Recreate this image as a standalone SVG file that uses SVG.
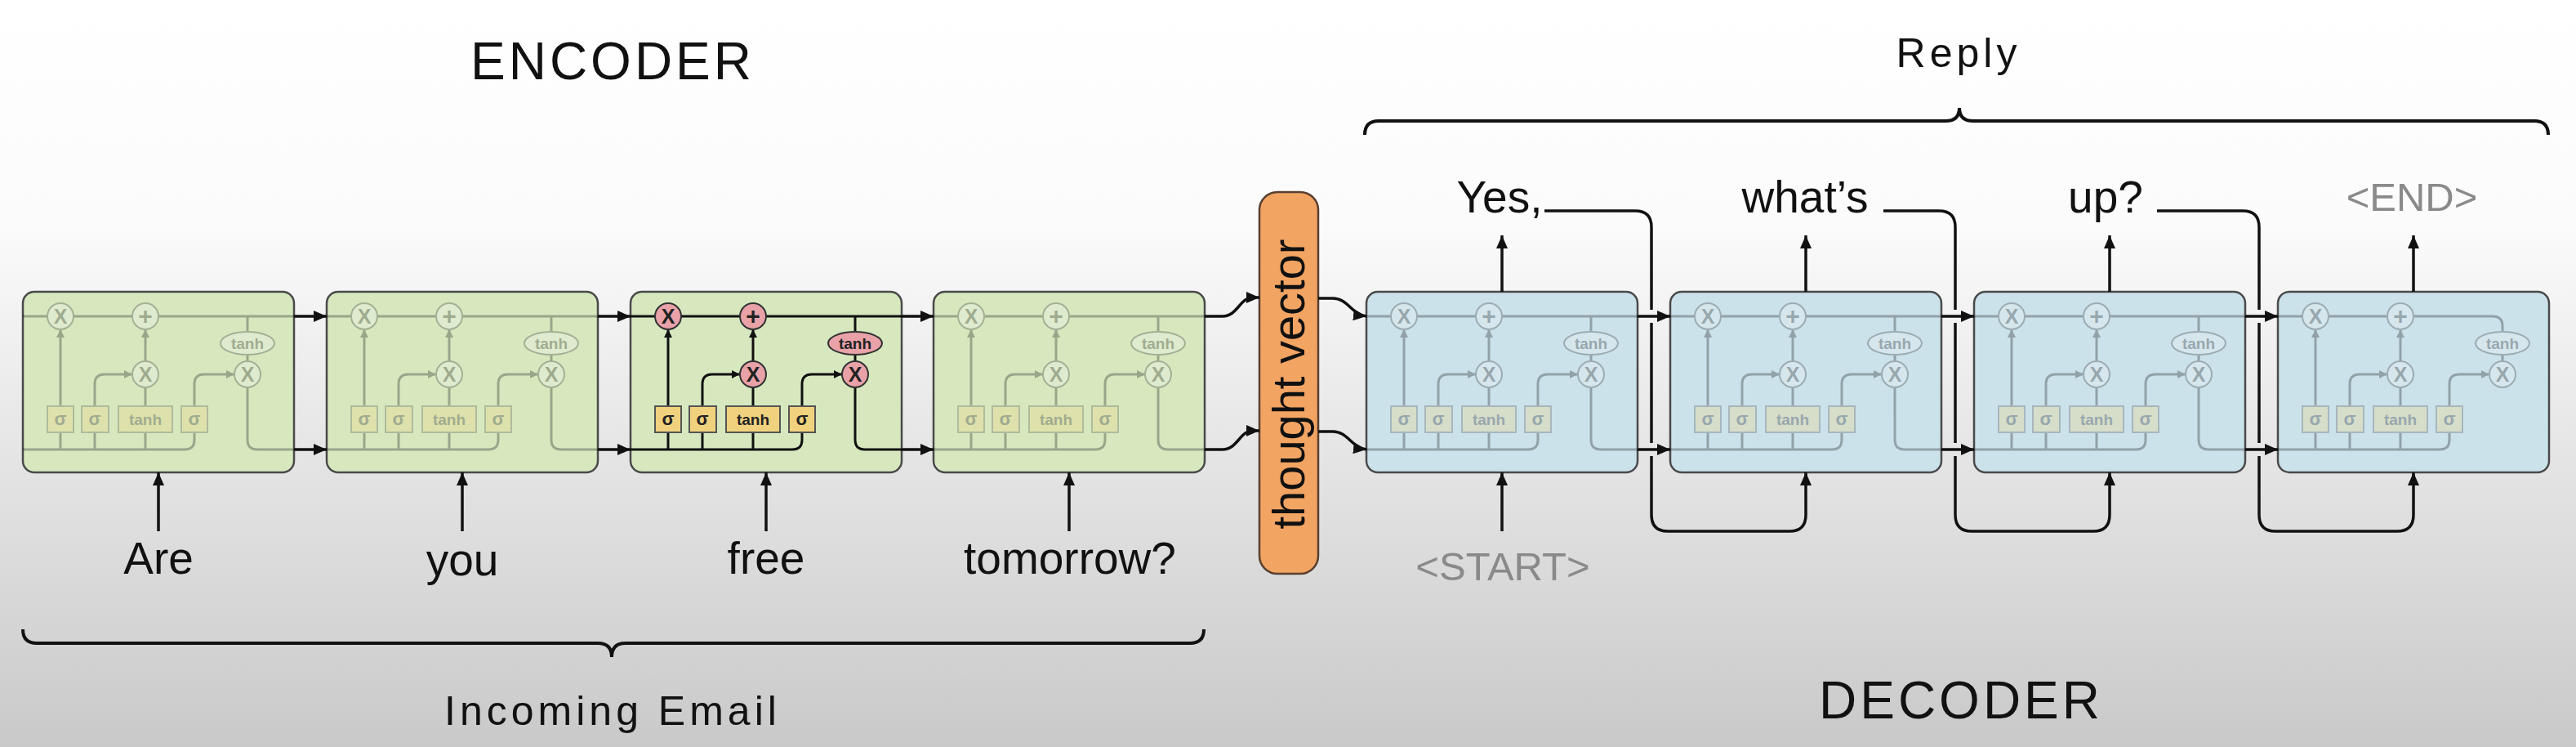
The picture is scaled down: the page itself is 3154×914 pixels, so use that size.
<svg xmlns="http://www.w3.org/2000/svg" width="3154" height="914" viewBox="0 0 3154 914">
<defs>
<linearGradient id="bg" x1="0" y1="0" x2="0" y2="1">
<stop offset="0" stop-color="#ffffff"/>
<stop offset="0.3" stop-color="#fbfbfb"/>
<stop offset="1" stop-color="#c9c9c9"/>
</linearGradient>
<marker id="ai" viewBox="0 0 10 10" refX="10" refY="5" markerWidth="10" markerHeight="10" markerUnits="userSpaceOnUse" orient="auto">
<path d="M0,0 L10,5 L0,10 z" fill="#111"/>
</marker>
<marker id="ao" viewBox="0 0 16 14" refX="16" refY="7" markerWidth="16" markerHeight="14" markerUnits="userSpaceOnUse" orient="auto">
<path d="M0,0 L16,7 L0,14 z" fill="#111"/>
</marker>
</defs>
<style>
.t{font-family:"Liberation Sans","DejaVu Sans",sans-serif;text-anchor:middle;fill:#111}
.ttl{font-size:64px;letter-spacing:4px}
.sub{font-size:50px;letter-spacing:5px}
.w{font-size:55px}
.g{fill:#8a8a8a}
.cellE{fill:#d7e8bf;stroke:#4a4a4a;stroke-width:2.5}
.cellD{fill:#cbe2eb;stroke:#4a4a4a;stroke-width:2.5}
.ln{stroke:#111;stroke-width:3;fill:none}
.op{fill:#e8a2a8;stroke:#333;stroke-width:2}
.gt{fill:#f0d27e;stroke:#555;stroke-width:2}
.it{font-family:"Liberation Sans","DejaVu Sans",sans-serif;font-weight:bold;text-anchor:middle;fill:#222}
.faded{opacity:0.3}
.faded .op{fill:#f2f2f2}
.c{stroke:#111;stroke-width:3.5;fill:none}
.br{stroke:#111;stroke-width:4;fill:none}
</style>
<rect x="0" y="0" width="3154" height="914" fill="url(#bg)"/>

<text class="t ttl" x="750" y="97">ENCODER</text>
<text class="t ttl" x="2401" y="879">DECODER</text>
<text class="t sub" x="2398" y="82">Reply</text>
<text class="t sub" x="750" y="887">Incoming Email</text>

<g id="brackets">
<path class="br" d="M28,770 Q28,787 45,787 H732 Q749,787 749,804 Q749,787 766,787 H1457 Q1474,787 1474,770"/>
<path class="br" d="M1671,165 Q1671,148 1688,148 H2382 Q2399,148 2399,132 Q2399,148 2416,148 H3103 Q3120,148 3120,165"/>
</g>

<g id="enc1" transform="translate(28,357)">
<rect class="cellE" x="0" y="0" width="332" height="221" rx="14"/>
<g class="faded">
<path class="ln" d="M0,30 H332 M275,30 V49 M275,77 V85 M0,193 H198 Q210,193 210,181 V172 M46,193 V172 M88,193 V172 M150,193 V172 M150,140 V117 M275,117 V181 Q275,193 287,193 H332"/>
<path class="ln" d="M46,140 V46" marker-end="url(#ai)"/>
<path class="ln" d="M88,140 V113 Q88,101 100,101 H134" marker-end="url(#ai)"/>
<path class="ln" d="M150,85 V46" marker-end="url(#ai)"/>
<path class="ln" d="M210,140 V113 Q210,101 222,101 H259" marker-end="url(#ai)"/>
<circle class="op" cx="46" cy="30" r="16"/><circle class="op" cx="150" cy="30" r="16"/><circle class="op" cx="150" cy="101" r="16"/><circle class="op" cx="275" cy="101" r="16"/>
<ellipse class="op" cx="275" cy="63" rx="33" ry="14"/>
<text class="it" x="46" y="39" font-size="25">X</text><text class="it" x="150" y="40" font-size="30">+</text><text class="it" x="150" y="110" font-size="25">X</text><text class="it" x="275" y="110" font-size="25">X</text><text class="it" x="275" y="70" font-size="19">tanh</text>
<rect class="gt" x="30" y="140" width="32" height="32"/><rect class="gt" x="72" y="140" width="33" height="32"/><rect class="gt" x="117" y="140" width="66" height="32"/><rect class="gt" x="194" y="140" width="32" height="32"/>
<text class="it" x="46" y="163" font-size="22">σ</text><text class="it" x="88" y="163" font-size="22">σ</text><text class="it" x="150" y="163" font-size="19">tanh</text><text class="it" x="210" y="163" font-size="22">σ</text>
</g>
</g>

<g id="enc2" transform="translate(400,357)">
<rect class="cellE" x="0" y="0" width="332" height="221" rx="14"/>
<g class="faded">
<path class="ln" d="M0,30 H332 M275,30 V49 M275,77 V85 M0,193 H198 Q210,193 210,181 V172 M46,193 V172 M88,193 V172 M150,193 V172 M150,140 V117 M275,117 V181 Q275,193 287,193 H332"/>
<path class="ln" d="M46,140 V46" marker-end="url(#ai)"/>
<path class="ln" d="M88,140 V113 Q88,101 100,101 H134" marker-end="url(#ai)"/>
<path class="ln" d="M150,85 V46" marker-end="url(#ai)"/>
<path class="ln" d="M210,140 V113 Q210,101 222,101 H259" marker-end="url(#ai)"/>
<circle class="op" cx="46" cy="30" r="16"/><circle class="op" cx="150" cy="30" r="16"/><circle class="op" cx="150" cy="101" r="16"/><circle class="op" cx="275" cy="101" r="16"/>
<ellipse class="op" cx="275" cy="63" rx="33" ry="14"/>
<text class="it" x="46" y="39" font-size="25">X</text><text class="it" x="150" y="40" font-size="30">+</text><text class="it" x="150" y="110" font-size="25">X</text><text class="it" x="275" y="110" font-size="25">X</text><text class="it" x="275" y="70" font-size="19">tanh</text>
<rect class="gt" x="30" y="140" width="32" height="32"/><rect class="gt" x="72" y="140" width="33" height="32"/><rect class="gt" x="117" y="140" width="66" height="32"/><rect class="gt" x="194" y="140" width="32" height="32"/>
<text class="it" x="46" y="163" font-size="22">σ</text><text class="it" x="88" y="163" font-size="22">σ</text><text class="it" x="150" y="163" font-size="19">tanh</text><text class="it" x="210" y="163" font-size="22">σ</text>
</g>
</g>

<g id="enc3" transform="translate(772,357)">
<rect class="cellE" x="0" y="0" width="332" height="221" rx="14"/>
<g>
<path class="ln" d="M0,30 H332 M275,30 V49 M275,77 V85 M0,193 H198 Q210,193 210,181 V172 M46,193 V172 M88,193 V172 M150,193 V172 M150,140 V117 M275,117 V181 Q275,193 287,193 H332"/>
<path class="ln" d="M46,140 V46" marker-end="url(#ai)"/>
<path class="ln" d="M88,140 V113 Q88,101 100,101 H134" marker-end="url(#ai)"/>
<path class="ln" d="M150,85 V46" marker-end="url(#ai)"/>
<path class="ln" d="M210,140 V113 Q210,101 222,101 H259" marker-end="url(#ai)"/>
<circle class="op" cx="46" cy="30" r="16"/><circle class="op" cx="150" cy="30" r="16"/><circle class="op" cx="150" cy="101" r="16"/><circle class="op" cx="275" cy="101" r="16"/>
<ellipse class="op" cx="275" cy="63" rx="33" ry="14"/>
<text class="it" x="46" y="39" font-size="25">X</text><text class="it" x="150" y="40" font-size="30">+</text><text class="it" x="150" y="110" font-size="25">X</text><text class="it" x="275" y="110" font-size="25">X</text><text class="it" x="275" y="70" font-size="19">tanh</text>
<rect class="gt" x="30" y="140" width="32" height="32"/><rect class="gt" x="72" y="140" width="33" height="32"/><rect class="gt" x="117" y="140" width="66" height="32"/><rect class="gt" x="194" y="140" width="32" height="32"/>
<text class="it" x="46" y="163" font-size="22">σ</text><text class="it" x="88" y="163" font-size="22">σ</text><text class="it" x="150" y="163" font-size="19">tanh</text><text class="it" x="210" y="163" font-size="22">σ</text>
</g>
</g>

<g id="enc4" transform="translate(1143,357)">
<rect class="cellE" x="0" y="0" width="332" height="221" rx="14"/>
<g class="faded">
<path class="ln" d="M0,30 H332 M275,30 V49 M275,77 V85 M0,193 H198 Q210,193 210,181 V172 M46,193 V172 M88,193 V172 M150,193 V172 M150,140 V117 M275,117 V181 Q275,193 287,193 H332"/>
<path class="ln" d="M46,140 V46" marker-end="url(#ai)"/>
<path class="ln" d="M88,140 V113 Q88,101 100,101 H134" marker-end="url(#ai)"/>
<path class="ln" d="M150,85 V46" marker-end="url(#ai)"/>
<path class="ln" d="M210,140 V113 Q210,101 222,101 H259" marker-end="url(#ai)"/>
<circle class="op" cx="46" cy="30" r="16"/><circle class="op" cx="150" cy="30" r="16"/><circle class="op" cx="150" cy="101" r="16"/><circle class="op" cx="275" cy="101" r="16"/>
<ellipse class="op" cx="275" cy="63" rx="33" ry="14"/>
<text class="it" x="46" y="39" font-size="25">X</text><text class="it" x="150" y="40" font-size="30">+</text><text class="it" x="150" y="110" font-size="25">X</text><text class="it" x="275" y="110" font-size="25">X</text><text class="it" x="275" y="70" font-size="19">tanh</text>
<rect class="gt" x="30" y="140" width="32" height="32"/><rect class="gt" x="72" y="140" width="33" height="32"/><rect class="gt" x="117" y="140" width="66" height="32"/><rect class="gt" x="194" y="140" width="32" height="32"/>
<text class="it" x="46" y="163" font-size="22">σ</text><text class="it" x="88" y="163" font-size="22">σ</text><text class="it" x="150" y="163" font-size="19">tanh</text><text class="it" x="210" y="163" font-size="22">σ</text>
</g>
</g>

<g id="thought">
<rect x="1542" y="235" width="72" height="467" rx="22" fill="#f2a463" stroke="#5a4030" stroke-width="2.5"/>
<text class="t" font-size="56" transform="translate(1597,470) rotate(-90)">thought vector</text>
</g>

<g id="dec1" transform="translate(1673,357)">
<rect class="cellD" x="0" y="0" width="332" height="221" rx="14"/>
<g class="faded">
<path class="ln" d="M0,30 H332 M275,30 V49 M275,77 V85 M0,193 H198 Q210,193 210,181 V172 M46,193 V172 M88,193 V172 M150,193 V172 M150,140 V117 M275,117 V181 Q275,193 287,193 H332"/>
<path class="ln" d="M46,140 V46" marker-end="url(#ai)"/>
<path class="ln" d="M88,140 V113 Q88,101 100,101 H134" marker-end="url(#ai)"/>
<path class="ln" d="M150,85 V46" marker-end="url(#ai)"/>
<path class="ln" d="M210,140 V113 Q210,101 222,101 H259" marker-end="url(#ai)"/>
<circle class="op" cx="46" cy="30" r="16"/><circle class="op" cx="150" cy="30" r="16"/><circle class="op" cx="150" cy="101" r="16"/><circle class="op" cx="275" cy="101" r="16"/>
<ellipse class="op" cx="275" cy="63" rx="33" ry="14"/>
<text class="it" x="46" y="39" font-size="25">X</text><text class="it" x="150" y="40" font-size="30">+</text><text class="it" x="150" y="110" font-size="25">X</text><text class="it" x="275" y="110" font-size="25">X</text><text class="it" x="275" y="70" font-size="19">tanh</text>
<rect class="gt" x="30" y="140" width="32" height="32"/><rect class="gt" x="72" y="140" width="33" height="32"/><rect class="gt" x="117" y="140" width="66" height="32"/><rect class="gt" x="194" y="140" width="32" height="32"/>
<text class="it" x="46" y="163" font-size="22">σ</text><text class="it" x="88" y="163" font-size="22">σ</text><text class="it" x="150" y="163" font-size="19">tanh</text><text class="it" x="210" y="163" font-size="22">σ</text>
</g>
</g>

<g id="dec2" transform="translate(2045,357)">
<rect class="cellD" x="0" y="0" width="332" height="221" rx="14"/>
<g class="faded">
<path class="ln" d="M0,30 H332 M275,30 V49 M275,77 V85 M0,193 H198 Q210,193 210,181 V172 M46,193 V172 M88,193 V172 M150,193 V172 M150,140 V117 M275,117 V181 Q275,193 287,193 H332"/>
<path class="ln" d="M46,140 V46" marker-end="url(#ai)"/>
<path class="ln" d="M88,140 V113 Q88,101 100,101 H134" marker-end="url(#ai)"/>
<path class="ln" d="M150,85 V46" marker-end="url(#ai)"/>
<path class="ln" d="M210,140 V113 Q210,101 222,101 H259" marker-end="url(#ai)"/>
<circle class="op" cx="46" cy="30" r="16"/><circle class="op" cx="150" cy="30" r="16"/><circle class="op" cx="150" cy="101" r="16"/><circle class="op" cx="275" cy="101" r="16"/>
<ellipse class="op" cx="275" cy="63" rx="33" ry="14"/>
<text class="it" x="46" y="39" font-size="25">X</text><text class="it" x="150" y="40" font-size="30">+</text><text class="it" x="150" y="110" font-size="25">X</text><text class="it" x="275" y="110" font-size="25">X</text><text class="it" x="275" y="70" font-size="19">tanh</text>
<rect class="gt" x="30" y="140" width="32" height="32"/><rect class="gt" x="72" y="140" width="33" height="32"/><rect class="gt" x="117" y="140" width="66" height="32"/><rect class="gt" x="194" y="140" width="32" height="32"/>
<text class="it" x="46" y="163" font-size="22">σ</text><text class="it" x="88" y="163" font-size="22">σ</text><text class="it" x="150" y="163" font-size="19">tanh</text><text class="it" x="210" y="163" font-size="22">σ</text>
</g>
</g>

<g id="dec3" transform="translate(2417,357)">
<rect class="cellD" x="0" y="0" width="332" height="221" rx="14"/>
<g class="faded">
<path class="ln" d="M0,30 H332 M275,30 V49 M275,77 V85 M0,193 H198 Q210,193 210,181 V172 M46,193 V172 M88,193 V172 M150,193 V172 M150,140 V117 M275,117 V181 Q275,193 287,193 H332"/>
<path class="ln" d="M46,140 V46" marker-end="url(#ai)"/>
<path class="ln" d="M88,140 V113 Q88,101 100,101 H134" marker-end="url(#ai)"/>
<path class="ln" d="M150,85 V46" marker-end="url(#ai)"/>
<path class="ln" d="M210,140 V113 Q210,101 222,101 H259" marker-end="url(#ai)"/>
<circle class="op" cx="46" cy="30" r="16"/><circle class="op" cx="150" cy="30" r="16"/><circle class="op" cx="150" cy="101" r="16"/><circle class="op" cx="275" cy="101" r="16"/>
<ellipse class="op" cx="275" cy="63" rx="33" ry="14"/>
<text class="it" x="46" y="39" font-size="25">X</text><text class="it" x="150" y="40" font-size="30">+</text><text class="it" x="150" y="110" font-size="25">X</text><text class="it" x="275" y="110" font-size="25">X</text><text class="it" x="275" y="70" font-size="19">tanh</text>
<rect class="gt" x="30" y="140" width="32" height="32"/><rect class="gt" x="72" y="140" width="33" height="32"/><rect class="gt" x="117" y="140" width="66" height="32"/><rect class="gt" x="194" y="140" width="32" height="32"/>
<text class="it" x="46" y="163" font-size="22">σ</text><text class="it" x="88" y="163" font-size="22">σ</text><text class="it" x="150" y="163" font-size="19">tanh</text><text class="it" x="210" y="163" font-size="22">σ</text>
</g>
</g>

<g id="dec4" transform="translate(2789,357)">
<rect class="cellD" x="0" y="0" width="332" height="221" rx="14"/>
<g class="faded">
<path class="ln" d="M0,30 H263 Q275,30 275,42 V49 M275,77 V85 M0,193 H198 Q210,193 210,181 V172 M46,193 V172 M88,193 V172 M150,193 V172 M150,140 V117"/>
<path class="ln" d="M46,140 V46" marker-end="url(#ai)"/>
<path class="ln" d="M88,140 V113 Q88,101 100,101 H134" marker-end="url(#ai)"/>
<path class="ln" d="M150,85 V46" marker-end="url(#ai)"/>
<path class="ln" d="M210,140 V113 Q210,101 222,101 H259" marker-end="url(#ai)"/>
<circle class="op" cx="46" cy="30" r="16"/><circle class="op" cx="150" cy="30" r="16"/><circle class="op" cx="150" cy="101" r="16"/><circle class="op" cx="275" cy="101" r="16"/>
<ellipse class="op" cx="275" cy="63" rx="33" ry="14"/>
<text class="it" x="46" y="39" font-size="25">X</text><text class="it" x="150" y="40" font-size="30">+</text><text class="it" x="150" y="110" font-size="25">X</text><text class="it" x="275" y="110" font-size="25">X</text><text class="it" x="275" y="70" font-size="19">tanh</text>
<rect class="gt" x="30" y="140" width="32" height="32"/><rect class="gt" x="72" y="140" width="33" height="32"/><rect class="gt" x="117" y="140" width="66" height="32"/><rect class="gt" x="194" y="140" width="32" height="32"/>
<text class="it" x="46" y="163" font-size="22">σ</text><text class="it" x="88" y="163" font-size="22">σ</text><text class="it" x="150" y="163" font-size="19">tanh</text><text class="it" x="210" y="163" font-size="22">σ</text>
</g>
</g>

<g id="words">
<text class="t w" x="194" y="702">Are</text>
<text class="t w" x="566" y="704">you</text>
<text class="t w" x="938" y="702">free</text>
<text class="t w" x="1310" y="702">tomorrow?</text>
<text class="t g" font-size="49" x="1840" y="710">&lt;START&gt;</text>
<text class="t w" x="1836" y="260">Yes,</text>
<text class="t w" x="2210" y="260">what’s</text>
<text class="t w" x="2578" y="260">up?</text>
<text class="t g" font-size="49" x="2953" y="258">&lt;END&gt;</text>
</g>

<g id="connectors">
<path class="c" d="M360,387 H400" marker-end="url(#ao)"/>
<path class="c" d="M360,550 H400" marker-end="url(#ao)"/>
<path class="c" d="M732,387 H772" marker-end="url(#ao)"/>
<path class="c" d="M732,550 H772" marker-end="url(#ao)"/>
<path class="c" d="M1104,387 H1143" marker-end="url(#ao)"/>
<path class="c" d="M1104,550 H1143" marker-end="url(#ao)"/>
<path class="c" d="M1475,387 H1497 C1515,387 1518,364 1534,364 H1542" marker-end="url(#ao)"/>
<path class="c" d="M1475,550 H1497 C1515,550 1518,527 1534,527 H1542" marker-end="url(#ao)"/>
<path class="c" d="M1614,365 H1632 C1650,365 1655,385 1673,387" marker-end="url(#ao)"/>
<path class="c" d="M1614,528 H1632 C1650,528 1655,548 1673,550" marker-end="url(#ao)"/>
<path class="c" d="M2005,387 H2045" marker-end="url(#ao)"/>
<path class="c" d="M2005,550 H2045" marker-end="url(#ao)"/>
<path class="c" d="M2377,387 H2417" marker-end="url(#ao)"/>
<path class="c" d="M2377,550 H2417" marker-end="url(#ao)"/>
<path class="c" d="M2749,387 H2789" marker-end="url(#ao)"/>
<path class="c" d="M2749,550 H2789" marker-end="url(#ao)"/>
<path class="c" d="M194,650 V578" marker-end="url(#ao)"/>
<path class="c" d="M566,650 V578" marker-end="url(#ao)"/>
<path class="c" d="M938,650 V578" marker-end="url(#ao)"/>
<path class="c" d="M1309,650 V578" marker-end="url(#ao)"/>
<path class="c" d="M1839,650 V578" marker-end="url(#ao)"/>
<path class="c" d="M1839,357 V288" marker-end="url(#ao)"/>
<path class="c" d="M2211,357 V288" marker-end="url(#ao)"/>
<path class="c" d="M2583,357 V288" marker-end="url(#ao)"/>
<path class="c" d="M2955,357 V288" marker-end="url(#ao)"/>
<path class="c" d="M1891,258 H2002 Q2022,258 2022,278 V379 M2022,395 V542 M2022,558 V630 Q2022,650 2042,650 H2191 Q2211,650 2211,630 V578" marker-end="url(#ao)"/>
<path class="c" d="M2306,258 H2374 Q2394,258 2394,278 V379 M2394,395 V542 M2394,558 V630 Q2394,650 2414,650 H2563 Q2583,650 2583,630 V578" marker-end="url(#ao)"/>
<path class="c" d="M2641,258 H2746 Q2766,258 2766,278 V379 M2766,395 V542 M2766,558 V630 Q2766,650 2786,650 H2935 Q2955,650 2955,630 V578" marker-end="url(#ao)"/>
</g>
</svg>
